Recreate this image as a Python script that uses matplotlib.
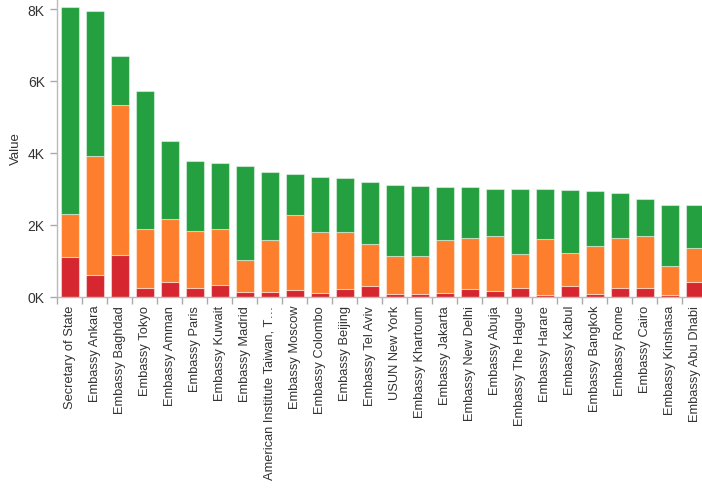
import matplotlib
matplotlib.use("Agg")
import matplotlib.pyplot as plt
import numpy as np
from matplotlib.ticker import FixedLocator, FuncFormatter

plt.rcParams["font.family"] = ["Liberation Sans", "DejaVu Sans"]

posts = [
    "Secretary of State", "Embassy Ankara", "Embassy Baghdad", "Embassy Tokyo",
    "Embassy Amman", "Embassy Paris", "Embassy Kuwait", "Embassy Madrid",
    "American Institute Taiwan, T\u2026", "Embassy Moscow", "Embassy Colombo",
    "Embassy Beijing", "Embassy Tel Aviv", "USUN New York", "Embassy Khartoum",
    "Embassy Jakarta", "Embassy New Delhi", "Embassy Abuja", "Embassy The Hague",
    "Embassy Harare", "Embassy Kabul", "Embassy Bangkok", "Embassy Rome",
    "Embassy Cairo", "Embassy Kinshasa", "Embassy Abu Dhabi",
]
# bottom (red), middle (orange), top (green) segments
red = [1095, 599, 1148, 245, 404, 245, 320, 117, 134, 173, 98, 209, 284,
       61, 61, 98, 201, 162, 245, 50, 284, 70, 237, 237, 50, 404]
orange = [1191, 3297, 4170, 1636, 1747, 1589, 1561, 900, 1432, 2090, 1708,
          1597, 1171, 1076, 1076, 1468, 1429, 1516, 931, 1553, 928, 1346,
          1393, 1441, 808, 956]
green = [5762, 4053, 1376, 3846, 2174, 1942, 1831, 2628, 1895, 1132, 1525,
         1488, 1736, 1979, 1943, 1477, 1413, 1327, 1829, 1402, 1765, 1524,
         1246, 1048, 1700, 1198]

C_RED = "#d62630"
C_ORANGE = "#fd7f2d"
C_GREEN = "#25a040"

fig = plt.figure(figsize=(7.02, 4.89), dpi=100)
ax = fig.add_axes([57.3 / 702, 1 - 297.5 / 489, 1 - 57.3 / 702, 297.5 / 489])

x = np.arange(len(posts))
r = np.array(red)
o = np.array(orange)
g = np.array(green)
edge = dict(edgecolor=(1, 1, 1, 0.45), linewidth=0.8)
ax.bar(x, r, width=0.73, color=C_RED, **edge)
ax.bar(x, o, width=0.73, bottom=r, color=C_ORANGE, **edge)
ax.bar(x, g, width=0.73, bottom=r + o, color=C_GREEN, **edge)

ax.set_xlim(-0.5, -0.5 + (702 - 57.3) / 25)
ax.set_ylim(0, 8000 + 10 * 2000 / 71.75)

ax.set_xticks(x)
ax.set_xticklabels(posts, rotation=90, fontsize=9.3, color="#333333")
ax.xaxis.set_minor_locator(FixedLocator(np.arange(len(posts)) - 0.5))
ax.tick_params(axis="x", which="major", length=0, pad=6)
ax.tick_params(axis="x", which="minor", length=5, color="#aaaaaa", width=1)

ax.set_yticks([0, 2000, 4000, 6000, 8000])
ax.yaxis.set_major_formatter(FuncFormatter(lambda v, p: f"{int(v / 1000)}K"))
ax.tick_params(axis="y", length=5, color="#aaaaaa", width=1, pad=4,
               labelsize=10, labelcolor="#333333")
ax.set_ylabel("Value", fontsize=9.5, color="#333333", labelpad=4)

for s in ["top", "right"]:
    ax.spines[s].set_visible(False)
for s in ["left", "bottom"]:
    ax.spines[s].set_color("#bbbbbb")
    ax.spines[s].set_linewidth(1)

fig.savefig("out.png", dpi=100)
